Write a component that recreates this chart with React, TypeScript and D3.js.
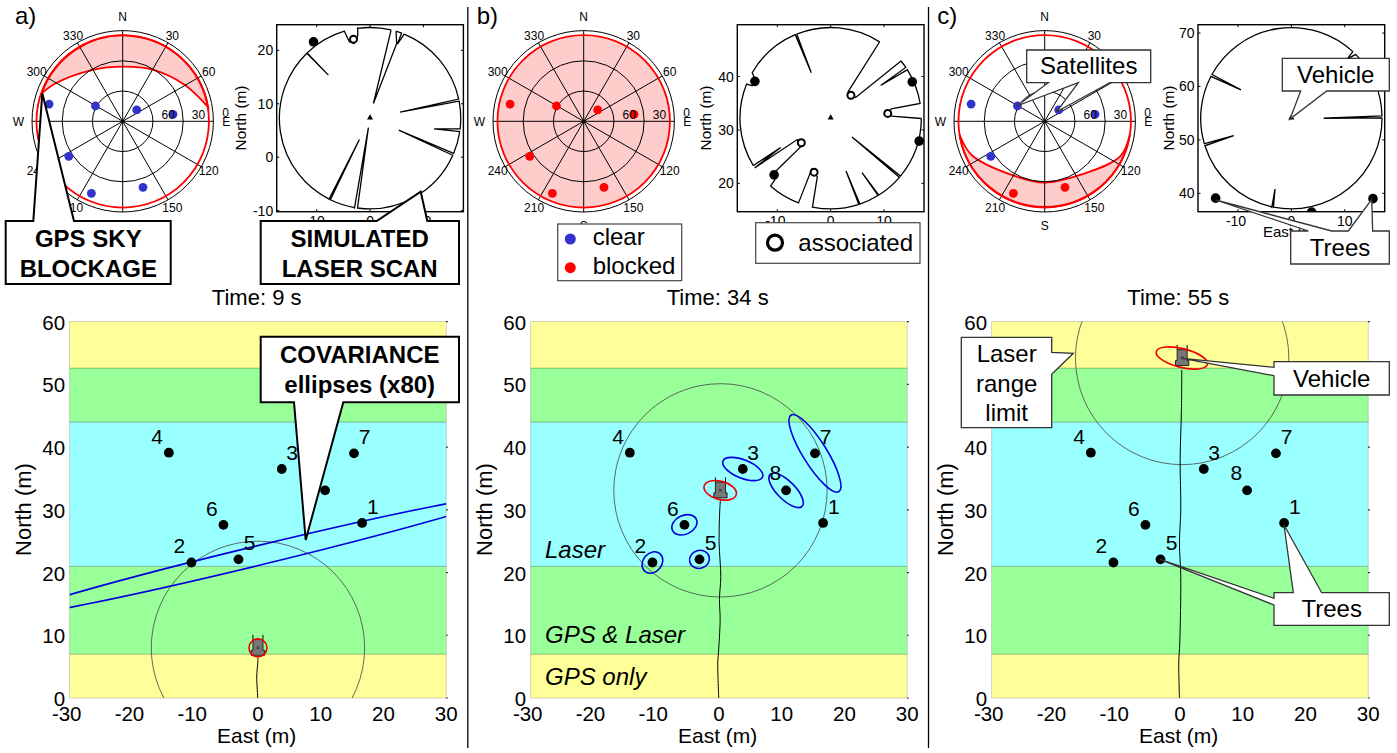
import React from "react";
import * as d3 from "d3";

const FONT = "'Liberation Sans', Arial, sans-serif";

// ---- shared data ----
const treeIds = [1, 2, 3, 4, 5, 6, 7, 8];
const treeEast = [16.6, -10.6, 3.8, -14.2, -3.1, -5.5, 15.3, 10.7];
const treeNorth = [27.9, 21.6, 36.5, 39.1, 22.1, 27.6, 39.0, 33.1];
const treeLabelDx = [10.7, -12, 10.3, -11.7, 11, -11.7, 10.7, -10.7];
const treeLabelDy = [-16.7, -17, -16.3, -16.3, -16.7, -16.3, -17, -18];

const satAzimuth = [283.2, 299.3, 51, 82.1, 237, 203.5, 162.9];
const satZenith = [75, 31, 17.9, 50.4, 63.8, 77.9, 68.5];

const bandEdges = [0, 7, 21, 44, 52.6, 60];
const bandColors = ["#ffff99", "#99ff99", "#99ffff", "#99ff99", "#ffff99"];
const mainXTicks = [-30, -20, -10, 0, 10, 20, 30];
const mainYTicks = [0, 10, 20, 30, 40, 50, 60];
const azimuthLabels = [30, 60, 120, 150, 210, 240, 300, 330];
const compassLabels = [["N", 0], ["S", 180], ["W", 270]];
const zenithRings = [30, 60, 90];
const elevationLabels = [["60", 30], ["30", 60]];

const times = ["Time: 9 s", "Time: 34 s", "Time: 55 s"];
const panelNames = ["a)", "b)", "c)"];

// vehicle positions on the main maps and in the scan plots
const vehicleMain = [[0, 8.0], [0.24, 33.1], [0.35, 54.2]];
const vehicleScan = [[0, 7.3], [0, 32.2], [0, 54.05]];
const rangeLimit = 17;

// trajectories [east, north]
const trajectoryA = [[-0.03, 0], [-0.19, 3.5], [-0.03, 5.6], [0, 6.7]];
const trajectoryB = [[-0.03, 0], [-0.19, 5.6], [-0.08, 7.2], [0.19, 12.5], [0.08, 15.7], [0.29, 19.4], [0.03, 24.7], [0.13, 30], [0.24, 31.6]];
const trajectoryC = [[-0.08, 0], [-0.19, 5.6], [-0.03, 8.8], [0.13, 19.4], [-0.08, 24.7], [0.13, 30], [0.03, 38], [0.24, 46], [0.29, 52.3]];

// covariance ellipses: [east, north, semi major, semi minor, tilt deg]
const vehicleEllipses = [[0, 8.0, 1.43, 1.43, 0], [0.2, 33.1, 2.65, 1.45, -15], [0.3, 54.2, 4.2, 1.5, -14]];
const treeEllipsesA = [[0, 22.7, 40, 1.55, 13.6]];
const treeEllipsesB = [
  [3.8, 36.5, 3.4, 1.45, -22],
  [10.7, 33.1, 3.6, 1.45, -45],
  [15.3, 39.0, 7.2, 1.9, -58],
  [-5.5, 27.6, 2.1, 1.5, 25],
  [-3.1, 22.1, 1.6, 1.43, 15],
  [-10.6, 21.6, 1.85, 1.5, 50],
];
const treeEllipsesC = [];

// GPS blockage inner edge [azimuth, zenith]
const maskA = [[289, 85], [299, 77], [330, 59], [360, 54.2], [390.8, 59.4], [420, 71.6], [440.7, 86]];
const maskC = [[99, 85.5], [115, 82.6], [146.6, 63.8], [180, 60.8], [211.6, 62.5], [245, 79.7], [261, 85.5]];
const ringZenith = 85.6;
const satBlockedA = [0, 0, 0, 0, 0, 0, 0];
const satBlockedB = [1, 1, 1, 1, 1, 1, 1];
const satBlockedC = [0, 0, 0, 0, 0, 1, 1];

// laser scans: vertices [east, north] in metres from the vehicle, clockwise
const scanA = [
  [3.94, 16.5], [0.63, 2.75], [5.0, 14.0], [4.88, 16.06], [5.94, 16.0], [5.13, 13.88], [6.4, 15.75],
  [16.56, 3.56], [5.63, 1.13], [16.69, 3.19], [16.88, -2.0], [12.0, -2.0], [16.88, -2.5],
  [15.75, -6.63], [5.38, -2.25], [15.5, -6.94], [-2.38, -17.06], [-0.31, -1.75], [-2.94, -16.94],
  [-7.5, -15.38], [-2.0, -4.0], [-7.75, -15.25], [-12.06, 12.38], [-7.81, 8.06], [-11.88, 12.31],
  [-4.88, 16.5], [-3.88, 14.31], [-3, 14], [-2.31, 15.44], [-2.31, 17.0],
];
const scanB = [
  [9.19, 14.31], [3.25, 4.94], [4.69, 3.88], [13.25, 10.75], [14.0, 9.44], [9.38, 6.13], [14.25, 9.0],
  [16.75, 2.75], [11.38, 1.75], [10.63, 0.88], [11.38, 0.38], [17, -0.06], [13, -10.75], [4.0, -3.5], [12.81, -11],
  [9.06, -14.44], [5.88, -10.19], [8.94, -14.56], [5.5, -16.13], [2.88, -9.88], [5.31, -16.19],
  [-3.44, -16.75], [-2.5, -11.0], [-3.56, -9.56], [-6.06, -15.94], [-11.25, -12.69], [-10.44, -11.5],
  [-10.63, -10.25], [-5.5, -5.25], [-6.25, -4.0], [-14.25, -9.31], [-9.38, -5.5], [-14.5, -8.88],
  [-15.75, 6.38], [-14.69, 6.06], [-14, 6.75], [-14.69, 8.5], [-6.69, 15.75], [-3.63, 8.5], [-6.38, 15.81],
];
const scanC = [
  [11.56, 12.5], [10.5, 11.1], [12.0, 11.9], [17, 0.44], [6.06, 0], [17, 0.06],
  [-3.4, -16.8], [-3.06, -13.25], [-3.69, -16.81], [-16.13, -5.13], [-10.81, -3.25], [-16.25, -4.75],
  [-15.06, 7.81], [-9.44, 5.31], [-14.88, 8.19],
];
const associatedA = [5];
const associatedB = [3, 8, 6, 5];
const associatedC = [];
const scanYDomains = [[-10.2, 24.8], [14.7, 49.7], [36.56, 71.56]];
const scanYTicks = [[-10, 0, 10, 20], [20, 30, 40], [40, 50, 60, 70]];
const scanXTicks = [-10, 0, 10];

// vehicle glyph, metres relative to its reference point
const vehicleBodyX = [-0.8, 0.8, 0.8, 1.06, 1.06, -1.06, -1.06, -0.8];
const vehicleBodyY = [1.33, 1.33, -0.4, -0.4, -1.2, -1.2, -0.4, -0.4];
const vehicleForkX = [-0.8, 0.8];
const vehicleForkY = [1.33, 2.07];

const BLUE = "#3333cc";
const RED = "#ff0000";

// ---- components ----
function Polar({ cx, cy, mask, full, blocked }) {
  const r = d3.scaleLinear().domain([0, 90]).range([0, 90.7]);
  const ang = (a) => (a * Math.PI) / 180;
  const R = r(ringZenith);
  let maskPath = null;
  if (mask) {
    const line = d3.lineRadial().angle((d) => ang(d[0])).radius((d) => r(d[1])).curve(d3.curveCatmullRom);
    const s = mask[0];
    const sx = r(s[1]) * Math.sin(ang(s[0]));
    const sy = -r(s[1]) * Math.cos(ang(s[0]));
    maskPath = `${line(mask)}A${R},${R} 0 0 0 ${sx},${sy}Z`;
  }
  const pt = (az, z) => [r(z) * Math.sin(ang(az)), -r(z) * Math.cos(ang(az))];
  return (
    <g transform={`translate(${cx},${cy})`} fontFamily={FONT}>
      {full && <circle r={R} fill="#ffcccc" />}
      {maskPath && <path d={maskPath} fill="#ffcccc" stroke={RED} strokeWidth={1.8} />}
      {zenithRings.map((z) => (
        <circle key={z} r={r(z)} fill="none" stroke="#000" strokeWidth={1} />
      ))}
      {d3.range(0, 360, 30).map((a) => {
        const [x, y] = pt(a, 90);
        return <line key={a} x1={0} y1={0} x2={x} y2={y} stroke="#000" strokeWidth={1} />;
      })}
      <circle r={1.5} fill="#000" />
      <circle r={R} fill="none" stroke={RED} strokeWidth={1.8} />
      {satAzimuth.map((a, i) => {
        const [x, y] = pt(a, satZenith[i]);
        return <circle key={i} cx={x} cy={y} r={4.4} fill={blocked[i] ? RED : BLUE} />;
      })}
      {azimuthLabels.map((a) => {
        const p = 99.3;
        return (
          <text key={a} x={p * Math.sin(ang(a))} y={-p * Math.cos(ang(a)) + 4.3} fontSize={12} textAnchor="middle">{a}</text>
        );
      })}
      {compassLabels.map((c) => {
        const p = 104.4;
        return (
          <text key={c[0]} x={p * Math.sin(ang(c[1]))} y={-p * Math.cos(ang(c[1])) + 4.5} fontSize={12} textAnchor="middle">{c[0]}</text>
        );
      })}
      {elevationLabels.map((e) => (
        <text key={e[0]} x={r(e[1]) + 15.3} y={-2} fontSize={12} textAnchor="middle">{e[0]}</text>
      ))}
      <text x={103} y={-4.3} fontSize={12} textAnchor="middle">0</text>
      <text x={103.5} y={5} fontSize={12} textAnchor="middle">E</text>
    </g>
  );
}

function scanPath(scan, x, y, cx, cy, radius) {
  const p = d3.path();
  const onCircle = (v) => Math.hypot(v[0], v[1]) >= 16.3;
  const px = (v) => [x(cx + v[0]), y(cy + v[1])];
  p.moveTo(...px(scan[0]));
  scan.forEach((v, i) => {
    const n = scan[(i + 1) % scan.length];
    const [nx, ny] = px(n);
    if (onCircle(v) && onCircle(n)) {
      const [ax, ay] = px(v);
      const a0 = Math.atan2(ay - y(cy), ax - x(cx));
      const a1 = Math.atan2(ny - y(cy), nx - x(cx));
      p.arc(x(cx), y(cy), radius, a0, a1, false);
    } else {
      p.lineTo(nx, ny);
    }
  });
  return p.toString();
}

function LaserPanel({ index, scan, associated, labelX }) {
  const x0 = 276.7 + 461 * index - (index === 2 ? 0.7 : 0) + (index === 1 ? -0.4 : 0);
  const top = 24.7;
  const bottom = 211.7;
  const x = d3.scaleLinear().domain([-17.5, 17.5]).range([x0, x0 + 186.7]);
  const y = d3.scaleLinear().domain(scanYDomains[index]).range([bottom, top]);
  const [vx, vy] = vehicleScan[index];
  const clip = `scanClip${index}`;
  const rPx = x(rangeLimit) - x(0);
  const triangle = d3.symbol(d3.symbolTriangle, 16)();
  return (
    <g fontFamily={FONT}>
      <defs>
        <clipPath id={clip}>
          <rect x={x0} y={top} width={186.7} height={bottom - top} />
        </clipPath>
      </defs>
      <g clipPath={`url(#${clip})`}>
        <path d={scanPath(scan, x, y, vx, vy, rPx)} fill="none" stroke="#000" strokeWidth={1.3} />
        {treeIds.map((id, i) => {
          const open = associated.includes(id);
          return (
            <circle key={id} cx={x(treeEast[i])} cy={y(treeNorth[i])} r={open ? 3.5 : 4.8}
              fill={open ? "#fff" : "#000"} stroke="#000" strokeWidth={open ? 2 : 0} />
          );
        })}
        <path d={triangle} transform={`translate(${x(vx)},${y(vy) - 0.5})`} fill="#000" />
      </g>
      <rect x={x0} y={top} width={186.7} height={bottom - top} fill="none" stroke="#000" strokeWidth={1.4} />
      {scanXTicks.map((t) => (
        <g key={t}>
          <line x1={x(t)} x2={x(t)} y1={bottom} y2={bottom - 2.5} stroke="#000" />
          <line x1={x(t)} x2={x(t)} y1={top} y2={top + 2.5} stroke="#000" />
          <text x={x(t) - (t < 0 ? 2 : 0)} y={226} fontSize={14} textAnchor="middle">{t}</text>
        </g>
      ))}
      {scanYTicks[index].map((t) => (
        <g key={t}>
          <line x1={x0} x2={x0 + 2.5} y1={y(t)} y2={y(t)} stroke="#000" />
          <line x1={x0 + 186.7} x2={x0 + 184.2} y1={y(t)} y2={y(t)} stroke="#000" />
          <text x={x0 - 3.5} y={y(t) + 5} fontSize={14} textAnchor="end">{t}</text>
        </g>
      ))}
      <text x={x0 + 93.3} y={237} fontSize={15} textAnchor="middle">East (m)</text>
      <text transform={`translate(${labelX},118) rotate(-90)`} fontSize={15.4} textAnchor="middle">North (m)</text>
    </g>
  );
}

function Ellipse({ e, x, y, stroke }) {
  const [cx, cy, a, b, tilt] = e;
  const sx = x(1) - x(0);
  return (
    <ellipse cx={x(cx)} cy={y(cy)} rx={a * sx} ry={b * sx} fill="none" stroke={stroke} strokeWidth={1.6}
      transform={`rotate(${-tilt},${x(cx)},${y(cy)})`} />
  );
}

function MainPanel({ index, trajectory, treeEllipses }) {
  const x0 = 69.7 + 461 * index;
  const x = d3.scaleLinear().domain([-30, 30]).range([x0, x0 + 376.5]);
  const y = d3.scaleLinear().domain([0, 60]).range([698, 321.6]);
  const [vx, vy] = vehicleMain[index];
  const clip = `mainClip${index}`;
  const line = d3.line().x((d) => x(d[0])).y((d) => y(d[1])).curve(d3.curveCatmullRom);
  const body = d3.line()(vehicleBodyX.map((dx, i) => [x(vx + dx), y(vy + vehicleBodyY[i])])) + "Z";
  const rPx = x(rangeLimit) - x(0);
  return (
    <g fontFamily={FONT}>
      <defs>
        <clipPath id={clip}>
          <rect x={x0} y={321.6} width={376.5} height={376.4} />
        </clipPath>
      </defs>
      {bandColors.map((c, i) => (
        <rect key={i} x={x0} width={376.5} y={y(bandEdges[i + 1])} height={y(bandEdges[i]) - y(bandEdges[i + 1])}
          fill={c} stroke="#000" strokeOpacity={0.22} strokeWidth={0.8} />
      ))}
      {mainYTicks.map((t) => (
        <line key={t} x1={x0 + 376.5} x2={x0 + 378} y1={y(t)} y2={y(t)} stroke="#000" strokeWidth={1.2} />
      ))}
      <g clipPath={`url(#${clip})`}>
        <circle cx={x(vx)} cy={y(vy)} r={rPx} fill="none" stroke="#444" strokeWidth={0.8} />
        <path d={line(trajectory)} fill="none" stroke="#000" strokeWidth={1} />
        {treeEllipses.map((e, i) => <Ellipse key={i} e={e} x={x} y={y} stroke="#0000dd" />)}
        <path d={body} fill="#777" stroke="#000" strokeWidth={0.8} />
        {vehicleForkX.map((dx) => (
          <line key={dx} x1={x(vx + dx)} x2={x(vx + dx)} y1={y(vy + vehicleForkY[0])} y2={y(vy + vehicleForkY[1])} stroke="#000" strokeWidth={1} />
        ))}
        <path d={d3.symbol(d3.symbolX, 6)()} transform={`translate(${x(vx)},${y(vy)})`} fill="#000" stroke="#000" strokeWidth={0.6} />
        <Ellipse e={vehicleEllipses[index]} x={x} y={y} stroke="#ee0000" />
      </g>
      {treeIds.map((id, i) => (
        <g key={id}>
          <circle cx={x(treeEast[i])} cy={y(treeNorth[i])} r={4.9} fill="#000" />
          <text x={x(treeEast[i]) + treeLabelDx[i]} y={y(treeNorth[i]) + treeLabelDy[i] + 7.5} fontSize={21} textAnchor="middle">{id}</text>
        </g>
      ))}
      {mainXTicks.map((t) => (
        <text key={t} x={x(t) - (t < 0 ? 3 : 0)} y={720.7} fontSize={20.5} textAnchor="middle">{t}</text>
      ))}
      {mainYTicks.map((t) => (
        <text key={t} x={x0 - 4.6} y={y(t) + 8} fontSize={20.5} textAnchor="end">{t}</text>
      ))}
      <text x={x0 + 187} y={743} fontSize={21} textAnchor="middle">East (m)</text>
      <text transform={`translate(${x0 - 38.5},509.5) rotate(-90)`} fontSize={22} textAnchor="middle">North (m)</text>
    </g>
  );
}

function Callout({ pts, bold, lines, thick }) {
  return (
    <g fontFamily={FONT}>
      <polygon points={pts.map((p) => p.join(",")).join(" ")} fill="#fff"
        stroke={thick ? "#000" : "#333"} strokeWidth={thick ? 2 : 1.3} />
      {lines.map((l, i) => (
        <text key={i} x={l[1]} y={l[2]} fontSize={24} fontWeight={bold ? "bold" : "normal"} textAnchor="middle">{l[0]}</text>
      ))}
    </g>
  );
}

export default function App() {
  const scans = [scanA, scanB, scanC];
  const assoc = [associatedA, associatedB, associatedC];
  const trajectories = [trajectoryA, trajectoryB, trajectoryC];
  const ells = [treeEllipsesA, treeEllipsesB, treeEllipsesC];
  const labelXs = [246, 711, 1174];
  const timeXs = [256.7, 717.7, 1178.3];
  const nameXs = [15, 476.7, 937.3];
  const regionLabels = [["Laser", 557.7], ["GPS & Laser", 643.3], ["GPS only", 685]];
  return (
    <svg width={1397} height={753} viewBox="0 0 1397 753"
      style={{ position: "absolute", left: 0, top: 0, background: "#fff" }} fontFamily={FONT}>
      <line x1={467.8} x2={467.8} y1={7} y2={748} stroke="#000" strokeWidth={1.3} />
      <line x1={928.5} x2={928.5} y1={7} y2={748} stroke="#000" strokeWidth={1.3} />

      {panelNames.map((n, i) => (
        <text key={n} x={nameXs[i]} y={24} fontSize={24}>{n}</text>
      ))}
      {times.map((t, i) => (
        <text key={t} x={timeXs[i]} y={305} fontSize={22} textAnchor="middle">{t}</text>
      ))}

      <Polar cx={122.7} cy={121.3} mask={maskA} blocked={satBlockedA} />
      <Polar cx={583.7} cy={121.3} full blocked={satBlockedB} />
      <Polar cx={1044.7} cy={121.3} mask={maskC} blocked={satBlockedC} />

      {scans.map((s, i) => (
        <LaserPanel key={i} index={i} scan={s} associated={assoc[i]} labelX={labelXs[i]} />
      ))}
      {trajectories.map((t, i) => (
        <MainPanel key={i} index={i} trajectory={t} treeEllipses={ells[i]} />
      ))}

      {regionLabels.map((r) => (
        <text key={r[0]} x={545} y={r[1]} fontSize={24} fontStyle="italic">{r[0]}</text>
      ))}

      {/* panel a callouts */}
      <Callout thick bold
        pts={[[5.7, 221], [33.3, 221], [42.3, 93.3], [74, 221], [170.7, 221], [170.7, 284], [5.7, 284]]}
        lines={[["GPS SKY", 88.3, 246.7], ["BLOCKAGE", 88.3, 276.7]]} />
      <Callout thick bold
        pts={[[260.7, 221], [376.7, 221], [420.7, 191.7], [427.3, 221], [459, 221], [459, 284], [260.7, 284]]}
        lines={[["SIMULATED", 359.7, 246.7], ["LASER SCAN", 359.7, 276.7]]} />
      <Callout thick bold
        pts={[[260.7, 336.7], [459, 336.7], [459, 402.3], [343.3, 402.3], [305.7, 540], [294, 402.3], [260.7, 402.3]]}
        lines={[["COVARIANCE", 359.7, 363.3], ["ellipses (x80)", 359.7, 393.3]]} />

      {/* panel b legends */}
      <g fontFamily={FONT}>
        <rect x={557.7} y={224} width={124} height={56.7} fill="#fff" stroke="#444" strokeWidth={1.2} />
        <circle cx={570.3} cy={239} r={5.5} fill={BLUE} />
        <circle cx={570.3} cy={267.7} r={5.5} fill={RED} />
        <text x={592.7} y={245} fontSize={24}>clear</text>
        <text x={592.7} y={274} fontSize={24}>blocked</text>
        <rect x={755.7} y={222.7} width={164.3} height={40.6} fill="#fff" stroke="#444" strokeWidth={1.2} />
        <circle cx={775} cy={242.7} r={7.5} fill="#fff" stroke="#000" strokeWidth={3.2} />
        <text x={798.3} y={250.7} fontSize={24}>associated</text>
      </g>

      {/* panel c callouts */}
      <Callout
        pts={[[1026.7, 50], [1150.7, 50], [1150.7, 82.7], [1110, 82.7], [1056.7, 111.7], [1078.3, 82.7], [1016.7, 106], [1048.3, 82.7], [1026.7, 82.7]]}
        lines={[["Satellites", 1088.7, 74]]} />
      <Callout
        pts={[[1282.3, 58.3], [1389.3, 58.3], [1389.3, 91], [1326.7, 91], [1290, 119], [1300.7, 91], [1282.3, 91]]}
        lines={[["Vehicle", 1335.7, 82.7]]} />
      <Callout
        pts={[[1290.7, 231], [1308.3, 231], [1215.7, 200], [1331.7, 231], [1348.3, 231], [1371.7, 199.3], [1372.7, 231], [1389.3, 231], [1389.3, 264], [1290.7, 264]]}
        lines={[["Trees", 1340, 256]]} />
      <Callout
        pts={[[961.3, 337.3], [1051.7, 337.3], [1051.7, 352.3], [1073.3, 353.3], [1051.7, 374.3], [1051.7, 427.7], [961.3, 427.7]]}
        lines={[["Laser", 1006.7, 361.7], ["range", 1006.7, 391.7], ["limit", 1006.7, 421]]} />
      <Callout
        pts={[[1274, 361.7], [1389.3, 361.7], [1389.3, 395], [1274, 395], [1274, 375.7], [1182.3, 358.3], [1274, 367.3]]}
        lines={[["Vehicle", 1331.7, 386.7]]} />
      <Callout
        pts={[[1274, 592.7], [1293.3, 592.7], [1284, 525], [1321.7, 592.7], [1389.3, 592.7], [1389.3, 625.3], [1274, 625.3], [1274, 605], [1160, 559.3], [1274, 598.3]]}
        lines={[["Trees", 1331.7, 616.7]]} />
    </svg>
  );
}
